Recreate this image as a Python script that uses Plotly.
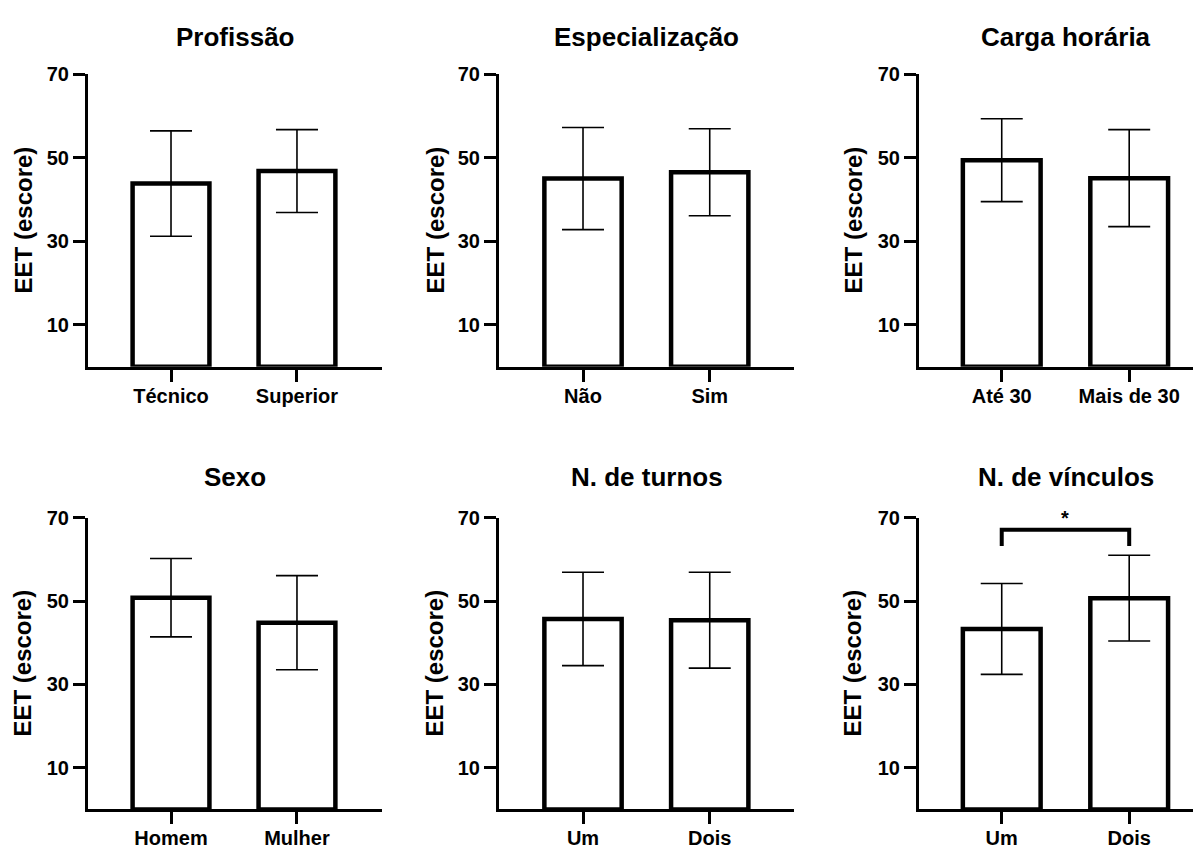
import plotly.graph_objects as go

# ---------------- data ----------------
titles = ["Profissão", "Especialização", "Carga horária",
          "Sexo", "N. de turnos", "N. de vínculos"]
categories = [["Técnico", "Superior"],
              ["Não", "Sim"],
              ["Até 30", "Mais de 30"],
              ["Homem", "Mulher"],
              ["Um", "Dois"],
              ["Um", "Dois"]]
means = [[43.8, 46.8],
         [45.0, 46.5],
         [49.4, 45.1],
         [50.8, 44.8],
         [45.7, 45.4],
         [43.3, 50.7]]
sds = [[12.6, 9.9],
       [12.2, 10.4],
       [9.9, 11.6],
       [9.4, 11.3],
       [11.2, 11.5],
       [10.9, 10.3]]
y_ticks = [10, 30, 50, 70]
y_title = "EET (escore)"
# significance bracket on panel 6
sig_panel = 6
sig_top = 67.1
sig_leg = 63.2
sig_label = "*"

# ---------------- layout geometry ----------------
W, H = 1201, 849
OFF = 8  # page body margin
col_px = [(88, 382), (499, 794), (919, 1209)]
row_px = [(74, 366.8), (517.7, 809.4)]
x_ranges = [[-0.659, 1.675], [-0.663, 1.665], [-0.649, 1.626]]
ytitle_x = [23, 435, 853]
title_x = [235, 646.5, 1065.5]
title_y = [37, 477]

FONT = "Liberation Sans, Arial, sans-serif"

fig = go.Figure()

for i in range(6):
    r, c = divmod(i, 3)
    n = i + 1
    xa = "x" if n == 1 else f"x{n}"
    ya = "y" if n == 1 else f"y{n}"
    fig.add_trace(go.Bar(
        x=categories[i], y=means[i],
        xaxis=xa, yaxis=ya,
        width=0.61,
        marker=dict(color="white", line=dict(color="black", width=4.5)),
        error_y=dict(type="data", array=sds[i], visible=True,
                     color="black", thickness=1.6, width=21),
        showlegend=False, hoverinfo="skip",
    ))
    x0, x1 = [v - OFF for v in col_px[c]]
    y0, y1 = [v - OFF for v in row_px[r]]
    xdom = [x0 / W, min(x1 / W, 1.0)]
    ydom = [1 - y1 / H, 1 - y0 / H]
    axis_common = dict(showline=True, linecolor="black", linewidth=3,
                       ticks="outside", tickcolor="black", tickwidth=2.5,
                       ticklen=12, showgrid=False, zeroline=False,
                       automargin=False, fixedrange=True,
                       tickfont=dict(family=FONT, size=20, color="black",
                                     weight="bold"))
    fig.layout[f"xaxis{'' if n == 1 else n}"] = dict(
        domain=xdom, anchor=ya, range=x_ranges[c],
        type="category", ticklabelstandoff=-3, **axis_common)
    fig.layout[f"yaxis{'' if n == 1 else n}"] = dict(
        domain=ydom, anchor=xa, range=[0, 70],
        tickvals=y_ticks, **axis_common)
    # panel title
    fig.add_annotation(text=f"<b>{titles[i]}</b>", xref="paper", yref="paper",
                       x=(title_x[c] - OFF) / W,
                       y=1 - (title_y[r] - OFF) / H,
                       xanchor="center", yanchor="middle", showarrow=False,
                       font=dict(family=FONT, size=26, color="black"))
    # y axis title
    fig.add_annotation(text=f"<b>{y_title}</b>", xref="paper", yref="paper",
                       x=(ytitle_x[c] - OFF) / W, y=1 - ((y0 + y1) / 2) / H,
                       textangle=-90, xanchor="center", yanchor="middle",
                       showarrow=False,
                       font=dict(family=FONT, size=24, color="black"))

# significance bracket
sx = "x" + str(sig_panel)
sy = "y" + str(sig_panel)
c0, c1 = categories[sig_panel - 1]
fig.add_trace(go.Scatter(
    x=[c0, c0, c1, c1], y=[sig_leg, sig_top, sig_top, sig_leg],
    xaxis=sx, yaxis=sy, mode="lines",
    line=dict(color="black", width=4), showlegend=False, hoverinfo="skip",
    cliponaxis=False))
fig.add_annotation(text=f"<b>{sig_label}</b>", xref=sx, yref=sy,
                   x=0.5, y=sig_top, yshift=12, showarrow=False,
                   xanchor="center", yanchor="middle",
                   font=dict(family=FONT, size=20, color="black"))

fig.update_layout(width=W, height=H, margin=dict(l=0, r=0, t=0, b=0),
                  plot_bgcolor="white", paper_bgcolor="white",
                  template="none")

fig.write_html("out.html")
